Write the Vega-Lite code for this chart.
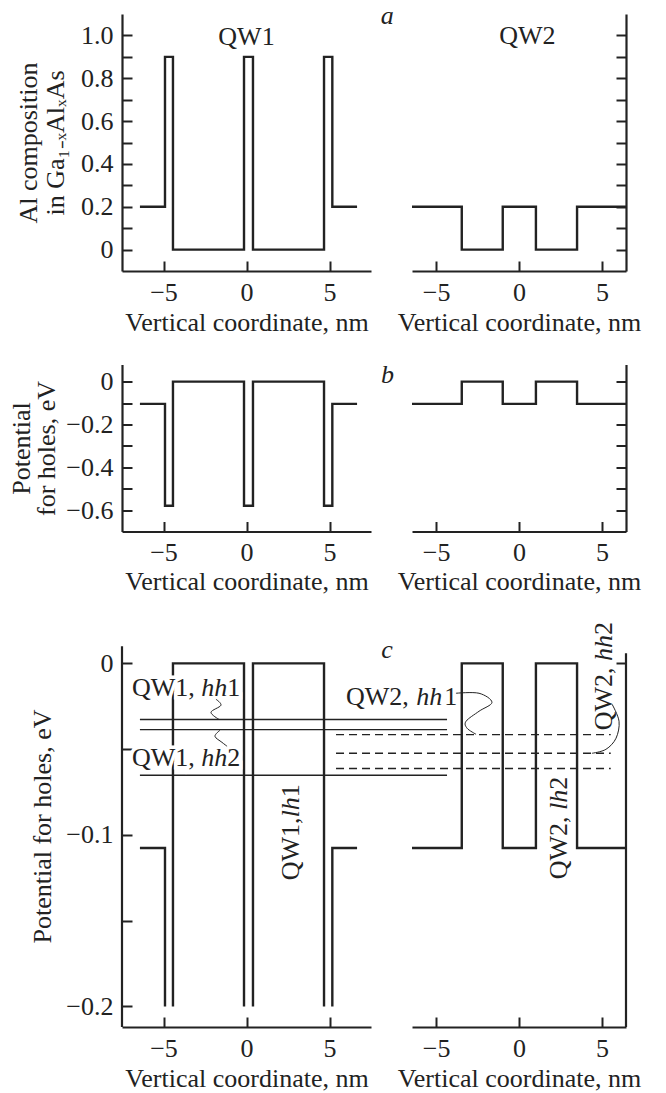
{
  "$schema": "https://vega.github.io/schema/vega-lite/v6.json",
  "padding": {"left": 8, "top": 3, "right": 2, "bottom": 0},
  "background": "white",
  "config": {
    "font": "Liberation Serif",
    "view": {"stroke": null},
    "axis": {"domainColor": "#222", "domainWidth": 2.2, "tickColor": "#222", "tickWidth": 2, "tickSize": -10, "labelFont": "Liberation Serif", "labelFontSize": 26, "labelColor": "#222", "titleFont": "Liberation Serif", "titleFontSize": 26, "titleFontWeight": "normal", "titleColor": "#222", "grid": false, "labelFlush": false, "labelOverlap": false},
    "axisX": {"labelPadding": 18, "titlePadding": 4},
    "axisY": {"labelPadding": 19},
    "text": {"font": "Liberation Serif", "fontSize": 26, "color": "#222"},
    "line": {"color": "#222", "strokeWidth": 2.4},
    "rule": {"color": "#222"}
  },
  "datasets": {
    "a1": [{"i":0,"x":-6.42,"y":0.2},{"i":1,"x":-4.91,"y":0.2},{"i":2,"x":-4.91,"y":0.9},{"i":3,"x":-4.43,"y":0.9},{"i":4,"x":-4.43,"y":0},{"i":5,"x":-0.15,"y":0},{"i":6,"x":-0.15,"y":0.9},{"i":7,"x":0.39,"y":0.9},{"i":8,"x":0.39,"y":0},{"i":9,"x":4.67,"y":0},{"i":10,"x":4.67,"y":0.9},{"i":11,"x":5.17,"y":0.9},{"i":12,"x":5.17,"y":0.2},{"i":13,"x":6.66,"y":0.2}],
    "a2": [{"i":0,"x":-6.45,"y":0.2},{"i":1,"x":-3.45,"y":0.2},{"i":2,"x":-3.45,"y":0},{"i":3,"x":-0.98,"y":0},{"i":4,"x":-0.98,"y":0.2},{"i":5,"x":1.02,"y":0.2},{"i":6,"x":1.02,"y":0},{"i":7,"x":3.5,"y":0},{"i":8,"x":3.5,"y":0.2},{"i":9,"x":6.45,"y":0.2}],
    "b1": [{"i":0,"x":-6.42,"y":-0.104},{"i":1,"x":-4.91,"y":-0.104},{"i":2,"x":-4.91,"y":-0.58},{"i":3,"x":-4.43,"y":-0.58},{"i":4,"x":-4.43,"y":0},{"i":5,"x":-0.15,"y":0},{"i":6,"x":-0.15,"y":-0.58},{"i":7,"x":0.39,"y":-0.58},{"i":8,"x":0.39,"y":0},{"i":9,"x":4.67,"y":0},{"i":10,"x":4.67,"y":-0.58},{"i":11,"x":5.17,"y":-0.58},{"i":12,"x":5.17,"y":-0.104},{"i":13,"x":6.66,"y":-0.104}],
    "b2": [{"i":0,"x":-6.45,"y":-0.104},{"i":1,"x":-3.45,"y":-0.104},{"i":2,"x":-3.45,"y":0},{"i":3,"x":-0.98,"y":0},{"i":4,"x":-0.98,"y":-0.104},{"i":5,"x":1.02,"y":-0.104},{"i":6,"x":1.02,"y":0},{"i":7,"x":3.5,"y":0},{"i":8,"x":3.5,"y":-0.104},{"i":9,"x":6.45,"y":-0.104}],
    "c1": [
      {"seg":1,"i":0,"x":-6.42,"y":-0.1076},{"seg":1,"i":1,"x":-4.91,"y":-0.1076},{"seg":1,"i":2,"x":-4.91,"y":-0.2},
      {"seg":2,"i":0,"x":-4.43,"y":-0.2},{"seg":2,"i":1,"x":-4.43,"y":0},{"seg":2,"i":2,"x":-0.15,"y":0},{"seg":2,"i":3,"x":-0.15,"y":-0.2},
      {"seg":3,"i":0,"x":0.39,"y":-0.2},{"seg":3,"i":1,"x":0.39,"y":0},{"seg":3,"i":2,"x":4.67,"y":0},{"seg":3,"i":3,"x":4.67,"y":-0.2},
      {"seg":4,"i":0,"x":5.17,"y":-0.2},{"seg":4,"i":1,"x":5.17,"y":-0.1076},{"seg":4,"i":2,"x":6.66,"y":-0.1076}
    ],
    "c2": [{"i":0,"x":-6.45,"y":-0.1076},{"i":1,"x":-3.45,"y":-0.1076},{"i":2,"x":-3.45,"y":0},{"i":3,"x":-0.98,"y":0},{"i":4,"x":-0.98,"y":-0.1076},{"i":5,"x":1.02,"y":-0.1076},{"i":6,"x":1.02,"y":0},{"i":7,"x":3.5,"y":0},{"i":8,"x":3.5,"y":-0.1076},{"i":9,"x":6.45,"y":-0.1076}],
    "c1_axisline": [{"x":-7.5,"y":-0.212,"y2":0.01}],
    "c2_axisline": [{"x":6.45,"y":-0.212,"y2":0.006}],
    "c1_levels": [{"x":-6.42,"x2":12.08,"y":-0.0327},{"x":-6.42,"x2":12.08,"y":-0.0386},{"x":-6.42,"x2":12.08,"y":-0.0652}],
    "c2_levels": [{"x":-11.03,"x2":5.53,"y":-0.0415},{"x":-11.03,"x2":5.53,"y":-0.0524},{"x":-11.03,"x2":5.53,"y":-0.0613}],
    "c1_squig": [
      {"seg":1,"i":0,"x":-1.84,"y":-0.0209},{"seg":1,"i":1,"x":-1.54,"y":-0.0244},{"seg":1,"i":2,"x":-2.14,"y":-0.0285},{"seg":1,"i":3,"x":-1.66,"y":-0.0326},
      {"seg":2,"i":0,"x":-1.60,"y":-0.039},{"seg":2,"i":1,"x":-1.90,"y":-0.0425},{"seg":2,"i":2,"x":-1.48,"y":-0.046},{"seg":2,"i":3,"x":-1.17,"y":-0.0483}
    ],
    "c2_squig": [
      {"seg":1,"i":0,"x":-3.80,"y":-0.0174},{"seg":1,"i":1,"x":-2.41,"y":-0.0174},{"seg":1,"i":2,"x":-1.63,"y":-0.0227},{"seg":1,"i":3,"x":-2.41,"y":-0.0279},{"seg":1,"i":4,"x":-3.19,"y":-0.0337},{"seg":1,"i":5,"x":-3.13,"y":-0.0378},{"seg":1,"i":6,"x":-2.59,"y":-0.0413},
      {"seg":2,"i":0,"x":5.61,"y":-0.0238},{"seg":2,"i":1,"x":6.03,"y":-0.0337},{"seg":2,"i":2,"x":5.85,"y":-0.0436},{"seg":2,"i":3,"x":5.24,"y":-0.0501},{"seg":2,"i":4,"x":4.40,"y":-0.0524}
    ],
    "a1_text": [{"t":"QW1","x":0,"y":0.9565}],
    "a2_text": [{"t":"QW2","x":0.5,"y":0.959}],
    "a_letter": [{"t":"a","x":8.48,"y":1.053}],
    "b_letter": [{"t":"b","x":8.5,"y":-0.008}],
    "c_letter": [{"t":"c","x":8.46,"y":0.0032}],
    "c1_roman": [{"t":"QW1,","x":-6.9,"y":-0.0192},{"t":"1","x":-1.159,"y":-0.0192},{"t":"QW1,","x":-6.9,"y":-0.060},{"t":"2","x":-1.159,"y":-0.060}],
    "c1_italic": [{"t":"hh","x":-2.725,"y":-0.0192},{"t":"hh","x":-2.725,"y":-0.060}],
    "c1_rot_roman": [{"t":"QW1,","x":3.16,"y":-0.1264},{"t":"1","x":3.16,"y":-0.078}],
    "c1_rot_italic": [{"t":"lh","x":3.16,"y":-0.0898}],
    "c2_roman": [{"t":"QW2,","x":-10.43,"y":-0.0244},{"t":"1","x":-4.5,"y":-0.0244}],
    "c2_italic": [{"t":"hh","x":-6.2,"y":-0.0244}],
    "c2_rot_roman": [{"t":"QW2,","x":2.89,"y":-0.1259},{"t":"2","x":2.89,"y":-0.0737},{"t":"QW2,","x":5.6,"y":-0.039},{"t":"2","x":5.6,"y":0.0166}],
    "c2_rot_italic": [{"t":"lh","x":2.89,"y":-0.0855},{"t":"hh","x":5.6,"y":0.0014}]
  },
  "columns": 2,
  "spacing": {"row": 93.5, "column": 41},
  "bounds": "flush",
  "concat": [
    {
      "width": 249, "height": 257,
      "encoding": {
        "x": {"field": "x", "type": "quantitative", "title": "Vertical coordinate, nm", "scale": {"domain": [-7.5, 7.5], "nice": false, "zero": false}, "axis": {"values": [-5, 0, 5]}},
        "y": {"field": "y", "type": "quantitative", "title": ["Al composition", "in Ga₁₋ₓAlₓAs"], "scale": {"domain": [-0.1, 1.1], "nice": false, "zero": false}, "axis": {"values": [0, 0.1, 0.2, 0.3, 0.4, 0.5, 0.6, 0.7, 0.8, 0.9, 1.0], "labelExpr": "abs(datum.value) < 1e-9 ? '0' : (round(datum.value*10) % 2 == 0 ? format(datum.value, '.1f') : '')", "titlePadding": 12, "titleLineHeight": 27}}
      },
      "layer": [
        {"data": {"name": "a1"}, "mark": {"type": "line"}, "encoding": {"order": {"field": "i", "type": "quantitative"}}},
        {"data": {"name": "a1_text"}, "mark": {"type": "text", "align": "center", "baseline": "alphabetic"}, "encoding": {"text": {"field": "t"}}},
        {"data": {"name": "a_letter"}, "mark": {"type": "text", "align": "center", "baseline": "alphabetic", "fontStyle": "italic"}, "encoding": {"text": {"field": "t"}}}
      ]
    },
    {
      "width": 214, "height": 257,
      "encoding": {
        "x": {"field": "x", "type": "quantitative", "title": "Vertical coordinate, nm", "scale": {"domain": [-6.45, 6.45], "nice": false, "zero": false}, "axis": {"values": [-5, 0, 5]}},
        "y": {"field": "y", "type": "quantitative", "title": null, "scale": {"domain": [-0.1, 1.1], "nice": false, "zero": false}, "axis": {"orient": "right", "values": [0, 0.1, 0.2, 0.3, 0.4, 0.5, 0.6, 0.7, 0.8, 0.9, 1.0], "labels": false, "title": null}}
      },
      "layer": [
        {"data": {"name": "a2"}, "mark": {"type": "line"}, "encoding": {"order": {"field": "i", "type": "quantitative"}}},
        {"data": {"name": "a2_text"}, "mark": {"type": "text", "align": "center", "baseline": "alphabetic"}, "encoding": {"text": {"field": "t"}}}
      ]
    },
    {
      "width": 249, "height": 167,
      "encoding": {
        "x": {"field": "x", "type": "quantitative", "title": "Vertical coordinate, nm", "scale": {"domain": [-7.5, 7.5], "nice": false, "zero": false}, "axis": {"values": [-5, 0, 5], "titlePadding": 3}},
        "y": {"field": "y", "type": "quantitative", "title": ["Potential", "for holes, eV"], "scale": {"domain": [-0.7, 0.08], "nice": false, "zero": false}, "axis": {"values": [0, -0.1, -0.2, -0.3, -0.4, -0.5, -0.6], "labelExpr": "abs(datum.value) < 1e-9 ? '0' : (round(datum.value*10) % 2 == 0 ? format(datum.value, '.1f') : '')", "titlePadding": 6, "titleLineHeight": 25}}
      },
      "layer": [
        {"data": {"name": "b1"}, "mark": {"type": "line"}, "encoding": {"order": {"field": "i", "type": "quantitative"}}},
        {"data": {"name": "b_letter"}, "mark": {"type": "text", "align": "center", "baseline": "alphabetic", "fontStyle": "italic"}, "encoding": {"text": {"field": "t"}}}
      ]
    },
    {
      "width": 214, "height": 167,
      "encoding": {
        "x": {"field": "x", "type": "quantitative", "title": "Vertical coordinate, nm", "scale": {"domain": [-6.45, 6.45], "nice": false, "zero": false}, "axis": {"values": [-5, 0, 5], "titlePadding": 3}},
        "y": {"field": "y", "type": "quantitative", "title": null, "scale": {"domain": [-0.7, 0.08], "nice": false, "zero": false}, "axis": {"orient": "right", "values": [0, -0.1, -0.2, -0.3, -0.4, -0.5, -0.6], "labels": false, "title": null}}
      },
      "layer": [
        {"data": {"name": "b2"}, "mark": {"type": "line"}, "encoding": {"order": {"field": "i", "type": "quantitative"}}}
      ]
    },
    {
      "width": 249, "height": 402,
      "encoding": {
        "x": {"field": "x", "type": "quantitative", "title": "Vertical coordinate, nm", "scale": {"domain": [-7.5, 7.5], "nice": false, "zero": false}, "axis": {"values": [-5, 0, 5]}},
        "y": {"field": "y", "type": "quantitative", "title": "Potential for holes, eV", "scale": {"domain": [-0.212, 0.0224], "nice": false, "zero": false}, "axis": {"domain": false, "values": [0, -0.05, -0.1, -0.15, -0.2], "labelExpr": "abs(datum.value) < 1e-9 ? '0' : (abs(round(datum.value*20)) % 2 == 0 ? format(datum.value, '.1f') : '')", "titlePadding": 10}}
      },
      "layer": [
        {"data": {"name": "c1_axisline"}, "mark": {"type": "rule", "strokeWidth": 2.2}, "encoding": {"y2": {"field": "y2"}}},
        {"data": {"name": "c1"}, "mark": {"type": "line"}, "encoding": {"detail": {"field": "seg"}, "order": {"field": "i", "type": "quantitative"}}},
        {"data": {"name": "c1_levels"}, "mark": {"type": "rule", "strokeWidth": 1.4}, "encoding": {"x2": {"field": "x2"}}},
        {"data": {"name": "c1_roman"}, "mark": {"type": "text", "align": "left", "baseline": "alphabetic", "stroke": "white", "strokeWidth": 7, "fill": "white"}, "encoding": {"text": {"field": "t"}}},
        {"data": {"name": "c1_italic"}, "mark": {"type": "text", "align": "left", "baseline": "alphabetic", "fontStyle": "italic", "stroke": "white", "strokeWidth": 7, "fill": "white"}, "encoding": {"text": {"field": "t"}}},
        {"data": {"name": "c1_squig"}, "mark": {"type": "line", "strokeWidth": 1, "interpolate": "cardinal"}, "encoding": {"detail": {"field": "seg"}, "order": {"field": "i", "type": "quantitative"}}},
        {"data": {"name": "c1_roman"}, "mark": {"type": "text", "align": "left", "baseline": "alphabetic"}, "encoding": {"text": {"field": "t"}}},
        {"data": {"name": "c1_italic"}, "mark": {"type": "text", "align": "left", "baseline": "alphabetic", "fontStyle": "italic"}, "encoding": {"text": {"field": "t"}}},
        {"data": {"name": "c1_rot_roman"}, "mark": {"type": "text", "align": "left", "baseline": "alphabetic", "angle": 270}, "encoding": {"text": {"field": "t"}}},
        {"data": {"name": "c1_rot_italic"}, "mark": {"type": "text", "align": "left", "baseline": "alphabetic", "angle": 270, "fontStyle": "italic"}, "encoding": {"text": {"field": "t"}}},
        {"data": {"name": "c_letter"}, "mark": {"type": "text", "align": "center", "baseline": "alphabetic", "fontStyle": "italic"}, "encoding": {"text": {"field": "t"}}}
      ]
    },
    {
      "width": 214, "height": 402,
      "encoding": {
        "x": {"field": "x", "type": "quantitative", "title": "Vertical coordinate, nm", "scale": {"domain": [-6.45, 6.45], "nice": false, "zero": false}, "axis": {"values": [-5, 0, 5]}},
        "y": {"field": "y", "type": "quantitative", "title": null, "scale": {"domain": [-0.212, 0.0224], "nice": false, "zero": false}, "axis": {"orient": "right", "domain": false, "values": [0], "labels": false, "title": null}}
      },
      "layer": [
        {"data": {"name": "c2_axisline"}, "mark": {"type": "rule", "strokeWidth": 2.2}, "encoding": {"y2": {"field": "y2"}}},
        {"data": {"name": "c2"}, "mark": {"type": "line"}, "encoding": {"order": {"field": "i", "type": "quantitative"}}},
        {"data": {"name": "c2_levels"}, "mark": {"type": "rule", "strokeWidth": 1.4, "strokeDash": [8, 5]}, "encoding": {"x2": {"field": "x2"}}},
        {"data": {"name": "c2_squig"}, "mark": {"type": "line", "strokeWidth": 1, "interpolate": "cardinal"}, "encoding": {"detail": {"field": "seg"}, "order": {"field": "i", "type": "quantitative"}}},
        {"data": {"name": "c2_roman"}, "mark": {"type": "text", "align": "left", "baseline": "alphabetic"}, "encoding": {"text": {"field": "t"}}},
        {"data": {"name": "c2_italic"}, "mark": {"type": "text", "align": "left", "baseline": "alphabetic", "fontStyle": "italic"}, "encoding": {"text": {"field": "t"}}},
        {"data": {"name": "c2_rot_roman"}, "mark": {"type": "text", "align": "left", "baseline": "alphabetic", "angle": 270}, "encoding": {"text": {"field": "t"}}},
        {"data": {"name": "c2_rot_italic"}, "mark": {"type": "text", "align": "left", "baseline": "alphabetic", "angle": 270, "fontStyle": "italic"}, "encoding": {"text": {"field": "t"}}}
      ]
    }
  ]
}
